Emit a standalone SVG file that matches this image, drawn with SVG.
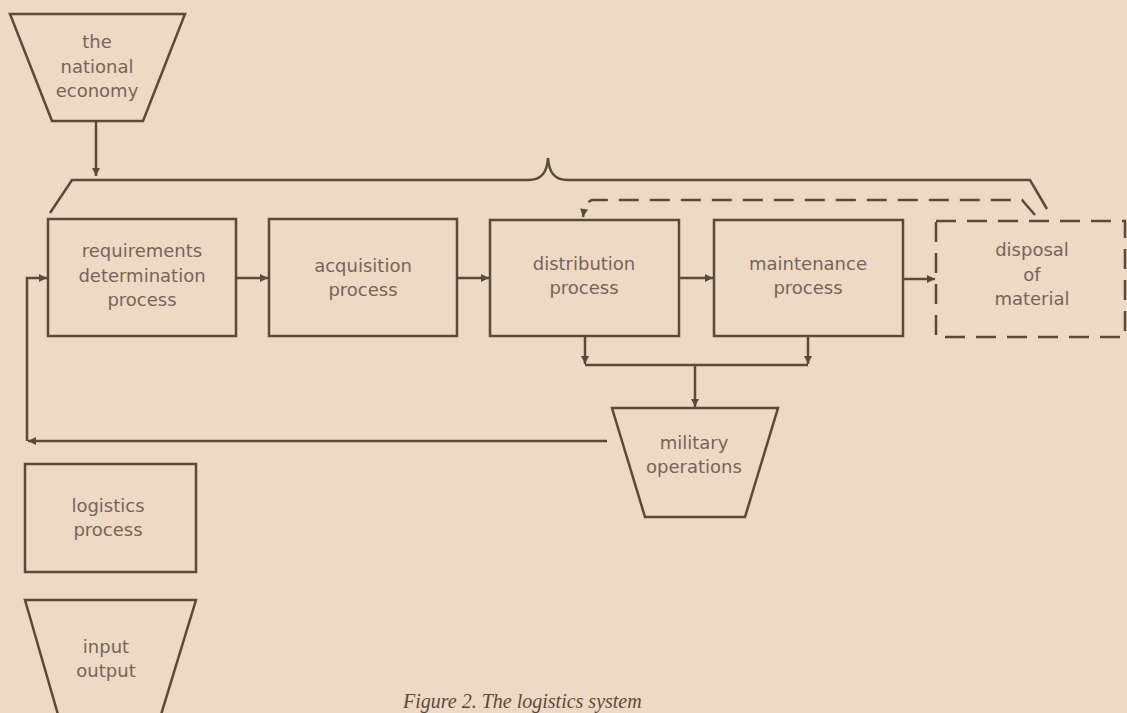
<svg xmlns="http://www.w3.org/2000/svg" width="1127" height="713" viewBox="0 0 1127 713">
<defs>
<style>
.ln{fill:none;stroke:#5b4a3a;stroke-width:2.5;stroke-linejoin:miter}
.bx{fill:none;stroke:#5b4a3a;stroke-width:2.5}
.dash{fill:none;stroke:#5b4a3a;stroke-width:2.5;stroke-dasharray:20 11}
.tx{font-family:"DejaVu Sans","Liberation Sans",sans-serif;font-size:18px;fill:#76655a;text-anchor:middle}
.cap{font-family:"Liberation Serif",serif;font-style:italic;font-size:20px;fill:#5b4a3a}
</style>
<marker id="ah" viewBox="0 0 10 10" refX="10" refY="5" markerWidth="11" markerHeight="8" markerUnits="userSpaceOnUse" orient="auto">
<path d="M0,0 L10,5 L0,10 z" fill="#5b4a3a"/>
</marker>
</defs>
<rect x="0" y="0" width="1127" height="713" fill="#eed9c5"/>

<g id="connectors">
<path class="ln" d="M96,121 V176" marker-end="url(#ah)"/>
<path class="ln" d="M236,278 H268" marker-end="url(#ah)"/>
<path class="ln" d="M457,278 H489" marker-end="url(#ah)"/>
<path class="ln" d="M679,278 H713" marker-end="url(#ah)"/>
<path class="ln" d="M903,279 H935" marker-end="url(#ah)"/>
<path class="ln" d="M585,336 V364" marker-end="url(#ah)"/>
<path class="ln" d="M808,336 V364" marker-end="url(#ah)"/>
<path class="ln" d="M585,365 H808"/>
<path class="ln" d="M695,365 V407" marker-end="url(#ah)"/>
<path class="ln" d="M607,441 H28" marker-end="url(#ah)"/>
<path class="ln" d="M27,441 V278 H47" marker-end="url(#ah)"/>
<path class="ln" d="M50,213 L72,180 H528 C542,180 547,172 548,158 C549,172 554,180 568,180 H1030 L1047,209"/>
<path class="dash" d="M1035,215 L1022,200 H592 Q585,202 583,217" marker-end="url(#ah)"/>
</g>

<g id="national-economy">
<polygon class="bx" points="10,14 185,14 143,121 52,121"/>
<text class="tx" x="97" y="48">the</text>
<text class="tx" x="97" y="73">national</text>
<text class="tx" x="97" y="97">economy</text>
</g>

<g id="requirements">
<rect class="bx" x="48" y="219" width="188" height="117"/>
<text class="tx" x="142" y="257">requirements</text>
<text class="tx" x="142" y="282">determination</text>
<text class="tx" x="142" y="306">process</text>
</g>

<g id="acquisition">
<rect class="bx" x="269" y="219" width="188" height="117"/>
<text class="tx" x="363" y="272">acquisition</text>
<text class="tx" x="363" y="296">process</text>
</g>

<g id="distribution">
<rect class="bx" x="490" y="220" width="189" height="116"/>
<text class="tx" x="584" y="270">distribution</text>
<text class="tx" x="584" y="294">process</text>
</g>

<g id="maintenance">
<rect class="bx" x="714" y="220" width="189" height="116"/>
<text class="tx" x="808" y="270">maintenance</text>
<text class="tx" x="808" y="294">process</text>
</g>

<g id="disposal">
<rect class="dash" x="936" y="221" width="189" height="116"/>
<text class="tx" x="1032" y="256">disposal</text>
<text class="tx" x="1032" y="281">of</text>
<text class="tx" x="1032" y="305">material</text>
</g>

<g id="military-operations">
<polygon class="bx" points="612,408 778,408 745,517 645,517"/>
<text class="tx" x="694" y="449">military</text>
<text class="tx" x="694" y="473">operations</text>
</g>

<g id="logistics-process">
<rect class="bx" x="25" y="464" width="171" height="108"/>
<text class="tx" x="108" y="512">logistics</text>
<text class="tx" x="108" y="536">process</text>
</g>

<g id="input-output">
<polygon class="bx" points="25,600 196,600 160,718 59,718"/>
<text class="tx" x="106" y="653">input</text>
<text class="tx" x="106" y="677">output</text>
</g>

<text class="cap" x="403" y="708">Figure 2. The logistics system</text>
</svg>
